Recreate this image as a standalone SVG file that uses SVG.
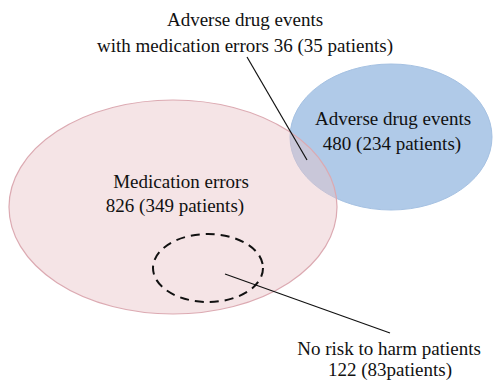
<svg xmlns="http://www.w3.org/2000/svg" width="493" height="380" viewBox="0 0 493 380">
<style>
text{font-family:"Liberation Serif","Times New Roman",serif;font-size:19px;fill:#111;text-anchor:middle}
.lead{stroke:#111;stroke-width:1.2;fill:none}
</style>
<rect width="493" height="380" fill="#ffffff"/>
<g id="adverse-drug-events">
<ellipse cx="391" cy="137" rx="101" ry="73" fill="#b0cae8" stroke="#a5c1e2" stroke-width="1"/>
</g>
<g id="medication-errors">
<ellipse cx="173" cy="207" rx="164" ry="107" fill="#e8c4c8" fill-opacity="0.45" stroke="#dcaab2" stroke-width="1.2"/>
</g>
<g id="no-risk">
<ellipse cx="208" cy="268" rx="55" ry="34" fill="none" stroke="#111" stroke-width="2" stroke-dasharray="9,6"/>
</g>
<g id="connectors">
<line class="lead" x1="247" y1="57" x2="307" y2="160"/>
<line class="lead" x1="225" y1="274" x2="390" y2="333"/>
</g>
<g id="labels">
<text x="245" y="26">Adverse drug events</text>
<text x="245" y="52">with medication errors 36 (35 patients)</text>
<text x="393" y="125">Adverse drug events</text>
<text x="392" y="150">480 (234 patients)</text>
<text x="181" y="188">Medication errors</text>
<text x="175" y="212">826 (349 patients)</text>
<text x="389" y="355">No risk to harm patients</text>
<text x="390" y="376">122 (83patients)</text>
</g>
</svg>
